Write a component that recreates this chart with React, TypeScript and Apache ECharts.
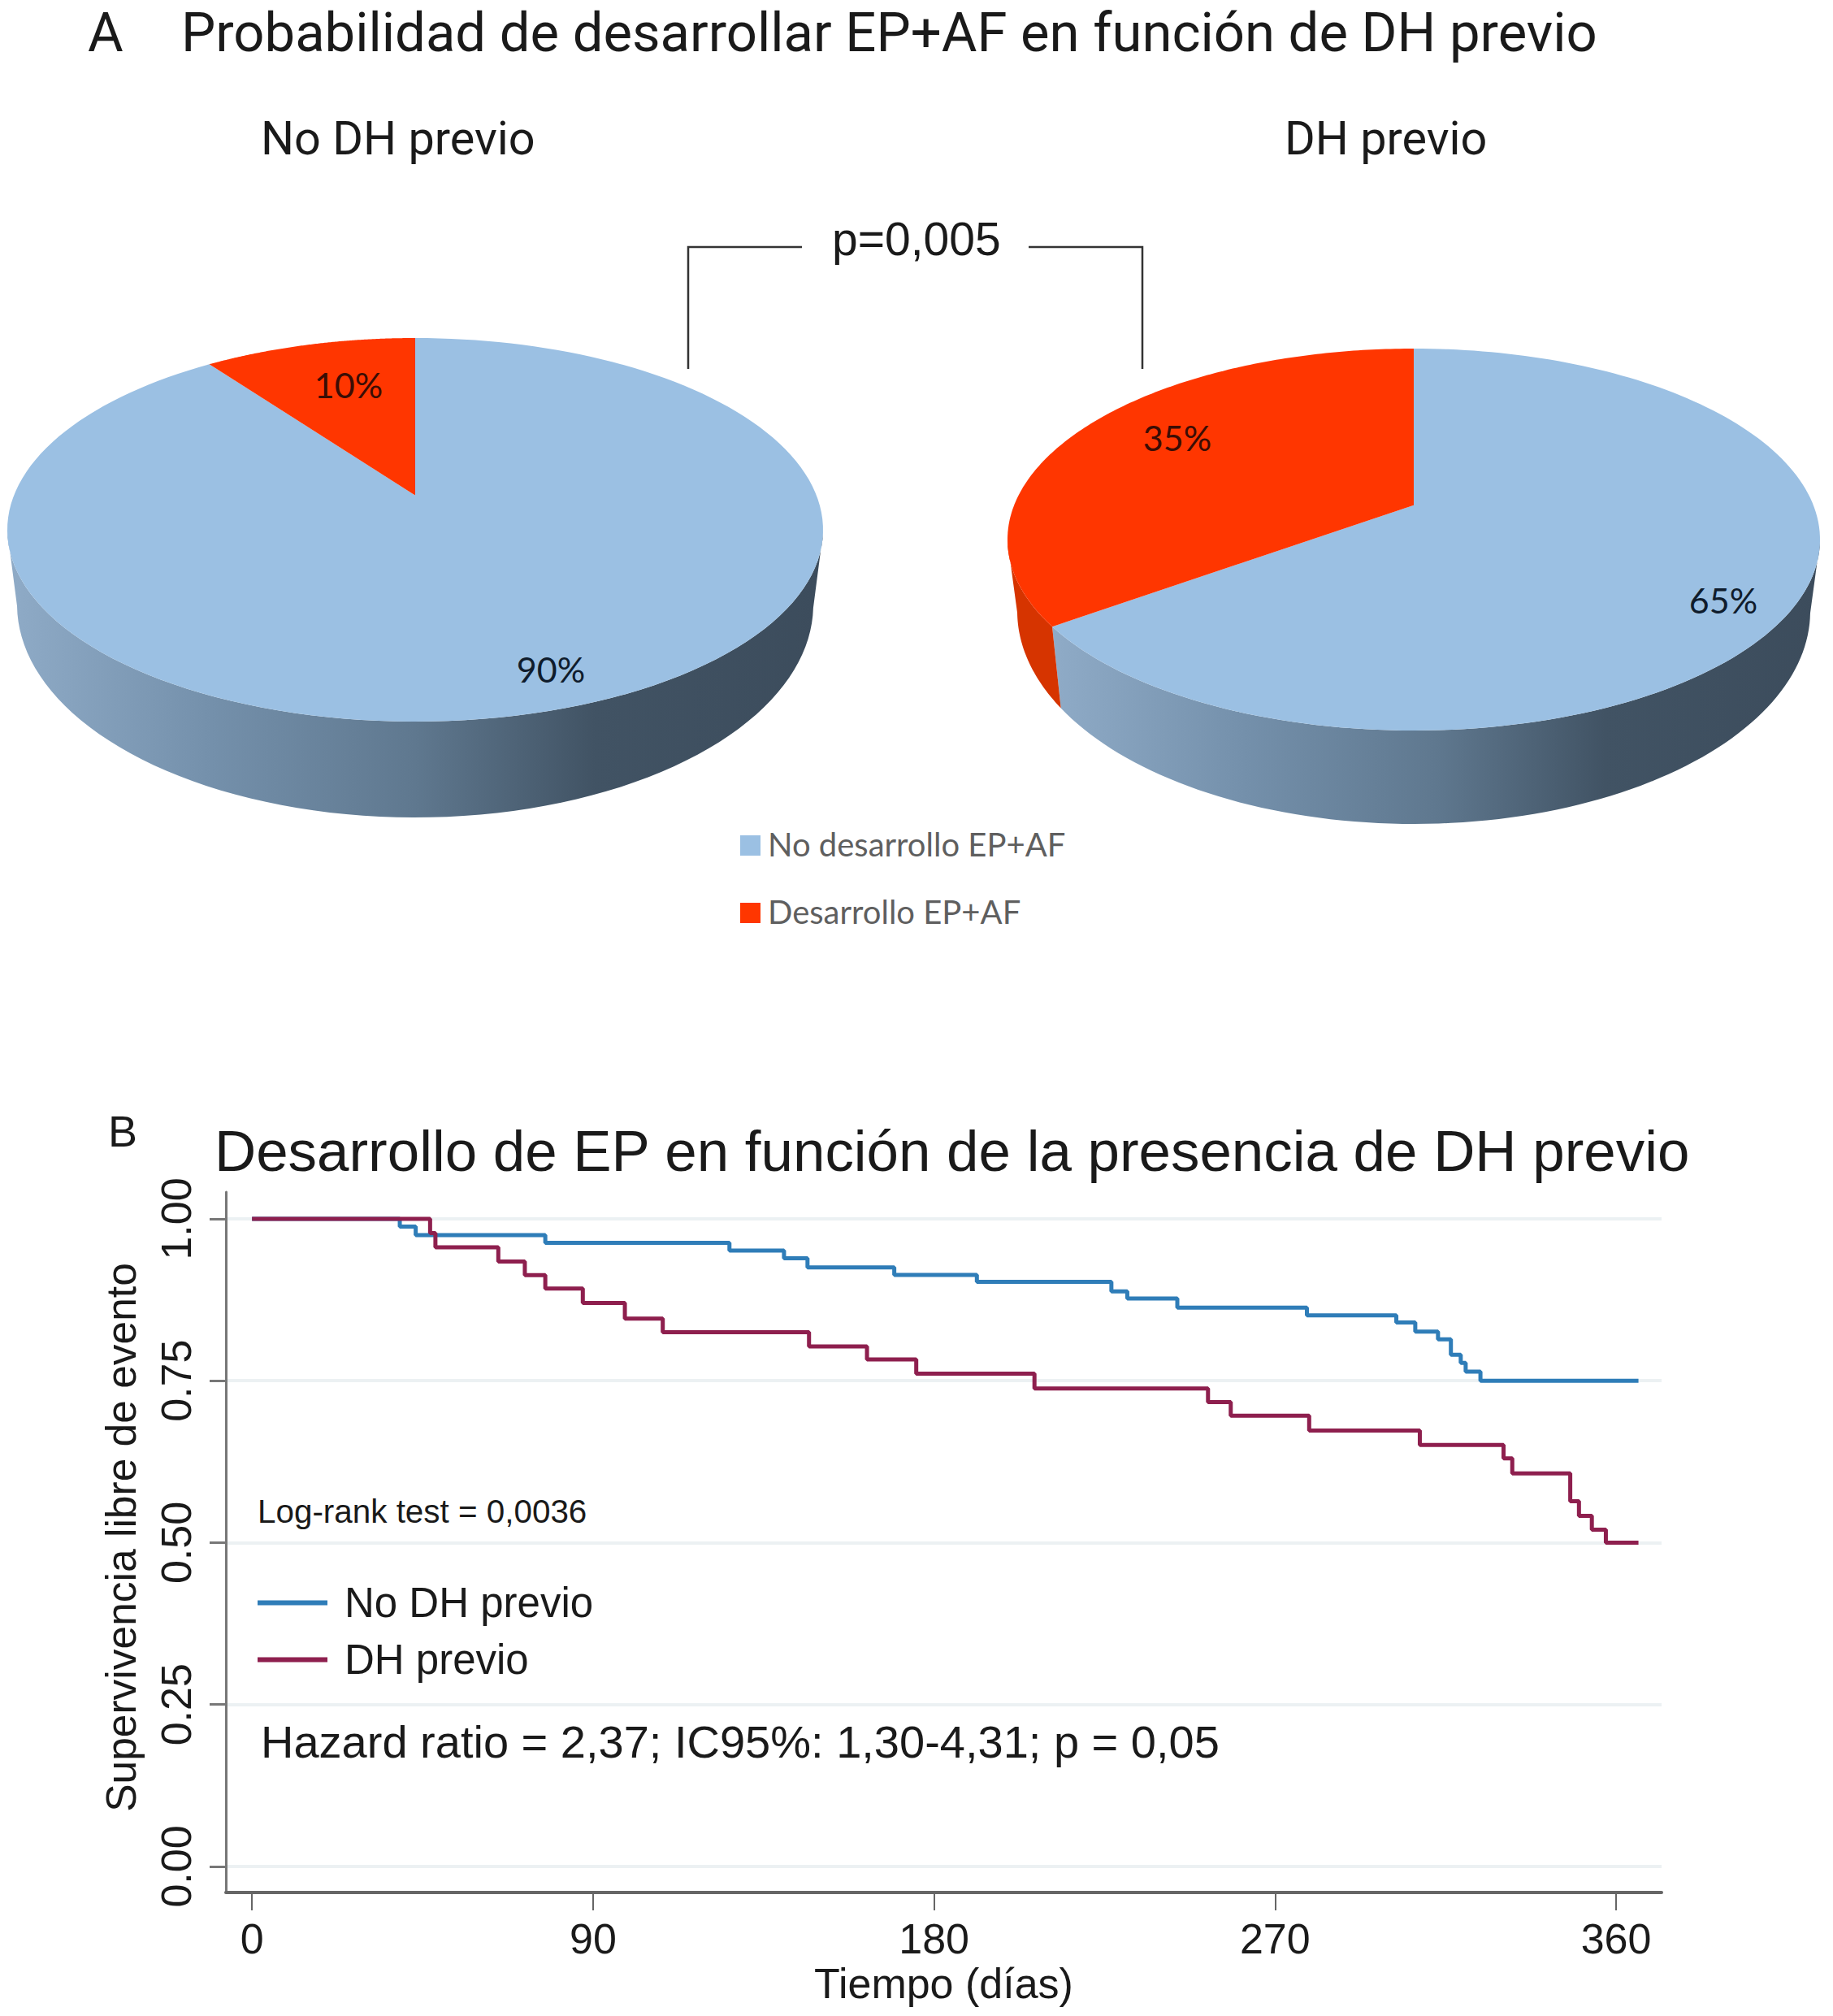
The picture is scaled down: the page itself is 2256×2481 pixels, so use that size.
import React, { useEffect, useRef } from "react";
import * as echarts from "echarts";

const sliceNames = ["No desarrollo EP+AF", "Desarrollo EP+AF"];
const noPrevioValues = [90, 10];
const previoValues = [65, 35];
const pieTitles = ["No DH previo", "DH previo"];

const yTicks = [0, 0.25, 0.5, 0.75, 1];
const xTicks = [0, 90, 180, 270, 360];

const noPrevioDays = [0, 39, 43.2, 77.4, 126, 140.4, 146.6, 169.5, 191.3, 226.8, 231, 244.2, 278.4, 302, 307, 313, 316.4, 319, 320.3, 324.2, 365.9];
const noPrevioSurv = [1, 0.988, 0.975, 0.963, 0.951, 0.939, 0.925, 0.9135, 0.9026, 0.888, 0.877, 0.863, 0.851, 0.84, 0.826, 0.814, 0.79, 0.7775, 0.764, 0.75, 0.75];
const previoDays = [0, 47, 48.4, 65, 72, 77.4, 87.3, 98.4, 108.4, 147, 162.3, 175.3, 206.5, 252.3, 258.3, 279, 308.2, 330.3, 332.6, 347.9, 350.2, 353.6, 357.3, 365.9];
const previoSurv = [1, 0.978, 0.956, 0.934, 0.913, 0.8925, 0.87, 0.846, 0.825, 0.803, 0.783, 0.761, 0.738, 0.717, 0.696, 0.673, 0.651, 0.63, 0.607, 0.564, 0.5415, 0.52, 0.5, 0.5];

const BLUE = "#9bc0e3";
const RED = "#ff3600";
const RED_SIDE = "#d63400";
const KM_BLUE = "#2f7db8";
const KM_RED = "#8e1f4e";
const TEXT = "#1a1a1a";

// Geometry of the two tilted pies: ellipse, perspective and wall depth.
const pieGeoms = [
  { cx: 511, cy: 652, rx: 502, ry: 236, rx2: 490, ry2: 262, cy2: 744, tilt: -0.18 },
  { cx: 1740, cy: 664, rx: 500, ry: 235, rx2: 488, ry2: 262, cy2: 752, tilt: -0.18 },
];
const labelSpots = [
  [[678, 823], [429, 473]],
  [[2121, 738], [1449, 538]],
];

function project(thetaDeg: number, a: number) {
  const t = (thetaDeg * Math.PI) / 180;
  const u = Math.sin(t);
  const v = -Math.cos(t);
  const d = 1 + a * v;
  return { u: (u * Math.sqrt(1 - a * a)) / d, v: (v + a) / d };
}

function sliceRows(values: number[], pieIdx: number) {
  const total = values.reduce((s, x) => s + x, 0);
  let acc = 0;
  return values.map((val, i) => {
    const row = [pieIdx, i, (acc / total) * 360, ((acc + val) / total) * 360, val];
    acc += val;
    return row;
  });
}

function renderSlice(_p: any, api: any) {
  const pieIdx = api.value(0) as number;
  const idx = api.value(1) as number;
  const t0 = api.value(2) as number;
  const t1 = api.value(3) as number;
  const val = api.value(4) as number;
  const g = pieGeoms[pieIdx];
  const steps = 160;
  const top: number[][] = [[g.cx, g.cy + g.tilt * g.ry]];
  for (let k = 0; k <= steps; k++) {
    const p = project(t0 + ((t1 - t0) * k) / steps, g.tilt);
    top.push([g.cx + g.rx * p.u, g.cy + g.ry * p.v]);
  }
  const children: any[] = [];
  const upper: number[][] = [];
  const lower: number[][] = [];
  for (let k = 0; k <= steps; k++) {
    const p = project(t0 + ((t1 - t0) * k) / steps, g.tilt);
    if (p.v >= 0) {
      upper.push([g.cx + g.rx * p.u, g.cy + g.ry * p.v]);
      lower.push([g.cx + g.rx2 * p.u, g.cy2 + g.ry2 * p.v]);
    }
  }
  if (upper.length > 1) {
    const fill =
      idx === 0
        ? new echarts.graphic.LinearGradient(0, 0, 1, 0, [
            { offset: 0, color: "#8fabc7" },
            { offset: 0.25, color: "#7490ab" },
            { offset: 0.5, color: "#5f788f" },
            { offset: 0.72, color: "#415364" },
            { offset: 1, color: "#3c4c5c" },
          ])
        : RED_SIDE;
    children.push({
      type: "polygon",
      shape: { points: upper.concat(lower.reverse()) },
      style: { fill },
    });
  }
  children.push({
    type: "polygon",
    shape: { points: top },
    style: { fill: idx === 0 ? BLUE : RED },
  });
  const spot = labelSpots[pieIdx][idx];
  children.push({
    type: "text",
    x: spot[0],
    y: spot[1],
    style: {
      text: `${val}%`,
      font: "43px Lato",
      fill: idx === 0 ? "#0f1c2c" : "#3a0d05",
      textAlign: "center",
      textVerticalAlign: "middle",
    },
  });
  return { type: "group", children };
}

const sans = "Liberation Sans";
const aptos = "Roboto";

function txt(text: string, x: number, y: number, fontSize: number, fontFamily: string, fill = TEXT, extra: any = {}) {
  return {
    type: "text",
    x,
    y,
    style: { text, fontSize, fontFamily, fill, textVerticalAlign: "middle", ...extra },
  };
}

function bracket(points: number[][]) {
  return {
    type: "polyline",
    shape: { points },
    style: { stroke: "#333", lineWidth: 2.5, fill: "none" },
  };
}

export default function App() {
  const ref = useRef<HTMLDivElement>(null);
  useEffect(() => {
    if (!ref.current) return;
    const chart = echarts.init(ref.current, undefined, { renderer: "svg" });
    chart.setOption({
      animation: false,
      backgroundColor: "#fff",
      grid: { left: 278, top: 1467, width: 1767, height: 862, containLabel: false },
      xAxis: {
        type: "value",
        min: -6.9,
        max: 372,
        name: "Tiempo (días)",
        nameLocation: "middle",
        nameGap: 86,
        nameMoveOverlap: false,
        nameTextStyle: { fontFamily: sans, fontSize: 52, color: TEXT },
        axisLine: { onZero: false, lineStyle: { color: "#666", width: 4 } },
        axisTick: { customValues: xTicks, length: 22, lineStyle: { color: "#666", width: 2 } },
        axisLabel: { customValues: xTicks, fontFamily: sans, fontSize: 52, color: TEXT, margin: 31 },
        splitLine: { show: false },
      },
      yAxis: {
        type: "value",
        min: -0.0402,
        max: 1.0414,
        name: "Supervivencia libre de evento",
        nameLocation: "middle",
        nameGap: 103,
        nameMoveOverlap: false,
        nameTextStyle: { fontFamily: sans, fontSize: 51.5, color: TEXT, padding: [0, 0, 0, 12] },
        axisLine: { show: true, onZero: false, lineStyle: { color: "#777", width: 3 } },
        axisTick: { show: true, customValues: yTicks, length: 20, lineStyle: { color: "#777", width: 3 } },
        axisLabel: {
          customValues: yTicks,
          rotate: 90,
          fontFamily: sans,
          fontSize: 52,
          color: TEXT,
          margin: 35,
          formatter: (v: number) => v.toFixed(2),
        },
        splitLine: { show: true, lineStyle: { color: "#ecf1f3", width: 4 } },
      },
      legend: {
        orient: "vertical",
        left: 312,
        top: 1942,
        itemGap: 19,
        itemWidth: 86,
        itemHeight: 6,
        icon: "rect",
        textStyle: { fontFamily: sans, fontSize: 51, color: TEXT, padding: [0, 0, 0, 16] },
        data: ["No DH previo", "DH previo"],
      },
      series: [
        {
          name: "pie-no-previo",
          type: "custom",
          coordinateSystem: "none",
          renderItem: renderSlice,
          data: sliceRows(noPrevioValues, 0),
          silent: true,
        },
        {
          name: "pie-previo",
          type: "custom",
          coordinateSystem: "none",
          renderItem: renderSlice,
          data: sliceRows(previoValues, 1),
          silent: true,
        },
        {
          name: "No DH previo",
          type: "line",
          step: "end",
          symbol: "none",
          lineStyle: { color: KM_BLUE, width: 5 },
          itemStyle: { color: KM_BLUE },
          data: noPrevioDays.map((d, i) => [d, noPrevioSurv[i]]),
          z: 3,
        },
        {
          name: "DH previo",
          type: "line",
          step: "end",
          symbol: "none",
          lineStyle: { color: KM_RED, width: 5 },
          itemStyle: { color: KM_RED },
          data: previoDays.map((d, i) => [d, previoSurv[i]]),
          z: 4,
        },
      ],
      graphic: [
        txt("A", 108, 40, 67, aptos),
        txt("Probabilidad de desarrollar EP+AF en función de DH previo", 223, 40, 67, aptos),
        txt(pieTitles[0], 321, 170, 57.6, aptos),
        txt(pieTitles[1], 1581, 170, 57.6, aptos),
        txt("p=0,005", 1024, 294, 57, sans),
        bracket([[847, 454], [847, 304], [987, 304]]),
        bracket([[1266, 304], [1406, 304], [1406, 454]]),
        { type: "rect", shape: { x: 911, y: 1028, width: 25, height: 25 }, style: { fill: BLUE } },
        { type: "rect", shape: { x: 911, y: 1111, width: 25, height: 25 }, style: { fill: RED } },
        txt(sliceNames[0], 945, 1039, 40, "Lato", "#5f5f5f"),
        txt(sliceNames[1], 945, 1122, 40, "Lato", "#5f5f5f"),
        txt("B", 133, 1392, 54, sans),
        txt("Desarrollo de EP en función de la presencia de DH previo", 264, 1416, 70.9, sans),
        txt("Log-rank test = 0,0036", 317, 1860, 40.4, sans),
        txt("Hazard ratio = 2,37; IC95%: 1,30-4,31; p = 0,05", 321, 2143, 56, sans),
      ],
    });
    return () => chart.dispose();
  }, []);
  return <div ref={ref} style={{ position: "absolute", left: 0, top: 0, width: 2256, height: 2481 }} />;
}
